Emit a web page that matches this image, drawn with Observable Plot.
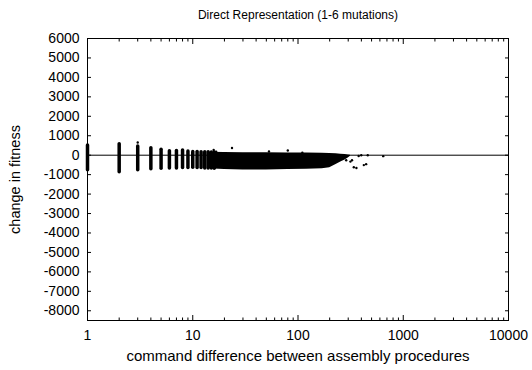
<!DOCTYPE html>
<html>
<head>
<meta charset="utf-8">
<script src="https://cdn.jsdelivr.net/npm/d3@7"></script>
<script src="https://cdn.jsdelivr.net/npm/@observablehq/plot@0.6"></script>
<style>
  html, body { margin: 0; padding: 0; background: #fff; }
  #chart { width: 532px; height: 370px; }
</style>
</head>
<body>
<div id="chart"></div>
<script>
// ---- text ----
const titleText = "Direct Representation (1-6 mutations)";
const xLabelText = "command difference between assembly procedures";
const yLabelText = "change in fitness";

// ---- ticks ----
const xMajor = [1, 10, 100, 1000, 10000];
const xMajorLabels = ["1", "10", "100", "1000", "10000"];
const xMinor = [2,3,4,5,6,7,8,9, 20,30,40,50,60,70,80,90, 200,300,400,500,600,700,800,900, 2000,3000,4000,5000,6000,7000,8000,9000];
const yTicks = [6000, 5000, 4000, 3000, 2000, 1000, 0, -1000, -2000, -3000, -4000, -5000, -6000, -7000, -8000];
const yTickLabels = ["6000", "5000", "4000", "3000", "2000", "1000", "0", "-1000", "-2000", "-3000", "-4000", "-5000", "-6000", "-7000", "-8000"];

// ---- data: vertical columns of points at small integer differences ----
const colX      = [1,    2,    3,    4,    5,    6,    7,    8,    9,    10,   11,   12,   13,   14,   15,   16];
const colTop    = [500,  560,  450,  360,  280,  200,  220,  240,  190,  170,  160,  150,  150,  150,  140,  140];
const colBottom = [-770, -880, -770, -720, -700, -680, -680, -660, -660, -650, -660, -660, -680, -680, -690, -700];

// ---- data: dense band of points at larger differences ----
const bandX      = [14,   20,   30,   50,   80,   120,  170,  200,  230,  255,  280,  300,  315];
const bandTop    = [150,  140,  130,  120,  110,  110,  100,  90,   70,   50,   30,   10,   0];
const bandBottom = [-700, -730, -760, -760, -740, -720, -700, -640, -480, -350, -250, -150, -50];

// ---- data: isolated points ----
const ptX = [3,   15.8, 16.7, 23.6, 53,  80,  110, 287,  315,  326,  339,  359,  399, 422,  444,  460, 377, 645];
const ptY = [650, 270,  180,  370,  190, 240, 130, -260, -330, -260, -620, -660, 0,   -510, -460, 0,   -40, -50];

const cols = colX.map((x, i) => ({x, top: colTop[i], bottom: colBottom[i]}));
const band = bandX.map((x, i) => ({x, top: bandTop[i], bottom: bandBottom[i]}));
const pts = ptX.map((x, i) => ({x, y: ptY[i]}));

const font = "'Liberation Sans', Arial, Helvetica, sans-serif";

const chart = Plot.plot({
  width: 532,
  height: 370,
  marginLeft: 87,
  marginRight: 24,
  marginTop: 38,
  marginBottom: 50,
  style: {fontFamily: font, fontSize: "14px", color: "black", background: "white", overflow: "visible"},
  x: {type: "log", domain: [1, 10000]},
  y: {domain: [-8500, 6000]},
  marks: [
    // data
    Plot.areaY(band, {x: "x", y1: "bottom", y2: "top", fill: "black", curve: "linear"}),
    Plot.ruleX(cols, {x: "x", y1: "bottom", y2: "top", stroke: "black", strokeWidth: 3.5, strokeLinecap: "round"}),
    Plot.dot(pts, {x: "x", y: "y", r: 1.2, fill: "black", stroke: null}),
    Plot.ruleY([0], {stroke: "black", strokeWidth: 1}),
    // frame & axes
    Plot.frame({stroke: "black", strokeWidth: 1}),
    Plot.axisX({anchor: "bottom", ticks: xMajor, tickSize: -5, tickPadding: 15,
      tickFormat: d => xMajorLabels[xMajor.indexOf(d)], label: null, fontSize: 14}),
    Plot.axisX({anchor: "bottom", ticks: xMinor, tickSize: -2.5, tickFormat: () => "", label: null}),
    Plot.axisX({anchor: "top", ticks: xMajor, tickSize: -5, tickFormat: () => "", label: null}),
    Plot.axisX({anchor: "top", ticks: xMinor, tickSize: -2.5, tickFormat: () => "", label: null}),
    Plot.axisY({anchor: "left", ticks: yTicks, tickSize: -4, tickPadding: 12,
      tickFormat: d => yTickLabels[yTicks.indexOf(d)], label: null, fontSize: 14}),
    Plot.axisY({anchor: "right", ticks: yTicks, tickSize: -4, tickFormat: () => "", label: null}),
    // titles
    Plot.text([titleText], {frameAnchor: "top", dy: -23, text: d => d, fontSize: 12, lineAnchor: "middle", fill: "black"}),
    Plot.text([xLabelText], {frameAnchor: "bottom", dy: 36, text: d => d, fontSize: 15, lineAnchor: "middle", fill: "black"}),
    Plot.text([yLabelText], {frameAnchor: "left", dx: -72, rotate: -90, text: d => d, fontSize: 14.5, lineAnchor: "middle", textAnchor: "middle", fill: "black"})
  ]
});
document.getElementById("chart").appendChild(chart);
</script>
</body>
</html>
